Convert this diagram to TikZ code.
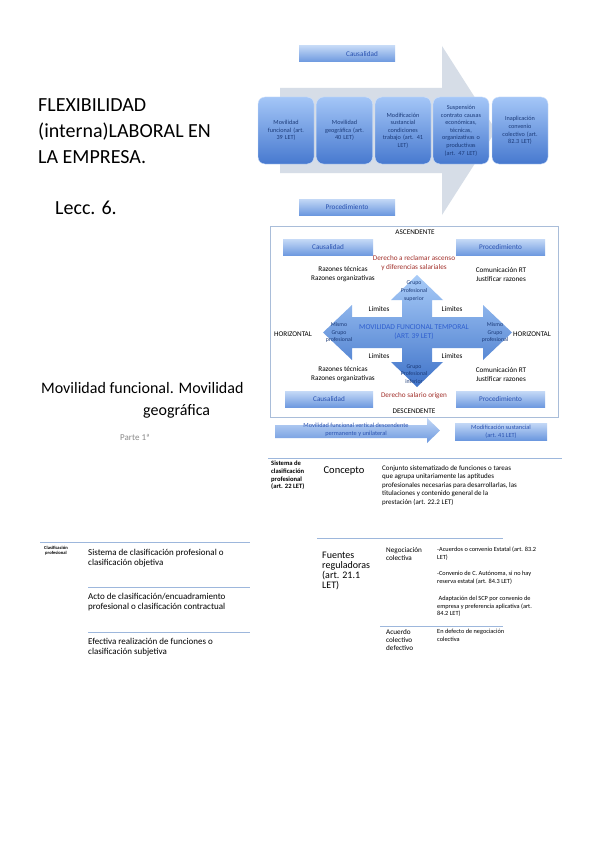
\documentclass[tikz,border=0pt]{standalone}
\usepackage{fontspec}
\setmainfont{Carlito}
\usepackage{tikz}
\usetikzlibrary{positioning, calc}
\definecolor{chevrongray}{HTML}{D6DDE7}
\definecolor{stagetop}{HTML}{A4C6F7}
\definecolor{stagebottom}{HTML}{4779CF}
\definecolor{bartop}{HTML}{C3D8F6}
\definecolor{barbottom}{HTML}{6C98DF}
\definecolor{navytext}{HTML}{1B3A78}
\definecolor{bartext}{HTML}{2A52B0}
\definecolor{crosstop}{HTML}{A9CCF8}
\definecolor{crossbottom}{HTML}{3F73C9}
\definecolor{titleblue}{HTML}{2F5FCF}
\definecolor{reasonred}{HTML}{A2302B}
\definecolor{framegray}{HTML}{A9BDD9}
\definecolor{rulegray}{HTML}{9DB7DC}
\definecolor{partgray}{HTML}{8A8A8A}

\newcommand{\fs}[2]{\fontsize{#1}{#2}\selectfont}

\begin{document}
\begin{tikzpicture}[x=1pt, y=-1pt,
  stagebox/.style={rounded corners=7pt, top color=stagetop, bottom color=stagebottom,
    draw=stagetop!50!white, minimum width=56pt, minimum height=67pt, text width=54pt,
    inner sep=0pt, align=center, text=navytext, font=\fs{6.2}{7.6}},
  barbox/.style={top color=bartop, bottom color=barbottom, minimum height=16pt,
    inner sep=0pt, text=bartext, align=center, font=\fs{7.2}{8.5}},
  gridtext/.style={font=\fs{7.2}{9}, align=center, inner sep=0pt},
  reason/.style={gridtext, text=reasonred},
  tiptext/.style={font=\fs{5.8}{7.6}, align=center, inner sep=0pt, text=navytext},
  rulestyle/.style={rulegray, line width=0.8pt}
]
  \useasboundingbox (0,0) rectangle (599,848);
  \fill[white] (0,0) rectangle (599,848);

  % Title block
  \node[anchor=base west, font=\fs{20}{24}, inner sep=0pt] (title1) at (38,112) {FLEXIBILIDAD};
  \node[anchor=base west, font=\fs{20}{24}, inner sep=0pt] (title2) at (38,138) {(interna)LABORAL EN};
  \node[anchor=base west, font=\fs{20}{24}, inner sep=0pt] (title3) at (38,163) {LA EMPRESA.};
  \node[anchor=base west, font=\fs{20}{24}, inner sep=0pt] (lecc) at (55,214) {Lecc. 6.};

  \node[anchor=base west, font=\fs{16}{19}, inner sep=0pt] (sub1) at (41,393) {Movilidad funcional. Movilidad};
  \node[anchor=base west, font=\fs{16}{19}, inner sep=0pt] (sub2) at (143,415) {geográfica};
  \node[anchor=base west, font=\fs{9}{11}, inner sep=0pt, text=partgray] (parte) at (120,440) {Parte 1ª};

  % Process chevron
  \fill[chevrongray] (280,88) -- (442,88) -- (442,46) -- (496,130.5) -- (442,215)
    -- (442,173) -- (280,173) -- cycle;
  \node[barbox, minimum width=96pt] (causa) at (347,54) {\hspace*{30pt}Causalidad};
  \node[barbox, minimum width=96pt] (proced) at (347,207) {Procedimiento};

  \foreach \x/\name/\txt in {
      286/funcional/{Movilidad\\funcional (art.\\39 LET)},
      344.5/geografica/{Movilidad\\geográfica (art.\\40 LET)},
      403/sustancial/{Modificación\\sustancial\\condiciones\\trabajo (art. 41\\LET)},
      461/suspension/{Suspensión\\contrato causas\\económicas,\\técnicas,\\organizativas o\\productivas\\(art. 47 LET)},
      520/inaplicacion/{Inaplicación\\convenio\\colectivo (art.\\82.3 LET)}} {
    \node[stagebox] (\name) at (\x,130.5) {\txt};
  }

  % Movilidad funcional temporal
  \draw[framegray, line width=0.8pt] (270,226) rectangle (558,417);
  \node[gridtext] (asc) at (415,232) {ASCENDENTE};
  \node[gridtext] (desc) at (414,411) {DESCENDENTE};
  \node[barbox, minimum width=90pt] (causaUp) at (328,247.5) {Causalidad};
  \node[barbox, minimum width=89pt] (procUp) at (500.5,247.5) {Procedimiento};
  \node[barbox, minimum width=88pt] (causaDown) at (329,399.5) {Causalidad};
  \node[barbox, minimum width=89pt] (procDown) at (500.5,399.5) {Procedimiento};

  \path[top color=crosstop, bottom color=crossbottom]
    (417,275) -- (443,300) -- (432,300) -- (432,317) -- (483,317) -- (483,305)
    -- (512,332.5) -- (483,360) -- (483,348) -- (432,348) -- (432,362) -- (443,362)
    -- (417,387) -- (391,362) -- (402,362) -- (402,348) -- (352,348) -- (352,360)
    -- (323,332.5) -- (352,305) -- (352,317) -- (402,317) -- (402,300) -- (391,300) -- cycle;

  \node[reason] (ascRight) at (414,263.5) {Derecho a reclamar ascenso\\y diferencias salariales};
  \node[reason] (salario) at (414,396) {Derecho salario origen};
  \node[gridtext] (razUp) at (343,274.5) {Razones técnicas\\Razones organizativas};
  \node[gridtext] (comUp) at (501,274.5) {Comunicación RT\\Justificar razones};
  \node[gridtext] (razDown) at (343,374.5) {Razones técnicas\\Razones organizativas};
  \node[gridtext] (comDown) at (501,374.5) {Comunicación RT\\Justificar razones};

  \node[tiptext] (superior) at (414,291) {Grupo\\Profesional\\superior};
  \node[tiptext] (inferior) at (414,374) {Grupo\\Profesional\\inferior};
  \node[tiptext] (mismoL) at (339,332.5) {Mismo\\Grupo\\profesional};
  \node[tiptext] (mismoR) at (495,332.5) {Mismo\\Grupo\\profesional};
  \node[gridtext, text=titleblue, font=\fs{7.5}{9}] (temporal) at (414,332.5)
    {MOVILIDAD FUNCIONAL TEMPORAL\\(ART. 39 LET)};

  \foreach \x/\y/\name in {379/309/limA, 452/309/limB, 379/356/limC, 452/356/limD}
    \node[gridtext] (\name) at (\x,\y) {Límites};
  \node[gridtext] (horizL) at (293,334) {HORIZONTAL};
  \node[gridtext] (horizR) at (532,334) {HORIZONTAL};

  % Descendente permanente
  \path[top color=bartop, bottom color=barbottom] (275,425) -- (427,425) -- (427,418)
    -- (440,430.5) -- (427,443) -- (427,438) -- (275,438) -- cycle;
  \node[gridtext, text=bartext, font=\fs{6.3}{7.8}] (permanente) at (356,430)
    {Movilidad funcional vertical descendente\\permanente y unilateral};
  \node[barbox, minimum width=92pt, minimum height=17pt, font=\fs{6.3}{7.8}] (modif) at (501,431.5)
    {Modificación sustancial\\(art. 41 LET)};

  % Sistema de clasificacion
  \draw[rulestyle] (268,458) -- (562,458);
  \node[anchor=north west, align=left, inner sep=0pt, font=\bfseries\fs{6.6}{7.6}] (sistema) at (271,461)
    {Sistema de\\clasificación\\profesional\\(art. 22 LET)};
  \node[font=\fs{10.5}{12}, inner sep=0pt] (concepto) at (344,471) {Concepto};
  \node[anchor=north west, align=left, inner sep=0pt, font=\fs{7}{8.5}] (definicion) at (382,465)
    {Conjunto sistematizado de funciones o tareas\\que agrupa unitariamente las aptitudes\\profesionales necesarias para desarrollarlas, las\\titulaciones y contenido general de la\\prestación (art. 22.2 LET)};

  % Clasificacion profesional
  \draw[rulestyle] (40,542) -- (250,542);
  \draw[rulestyle] (88,587) -- (250,587);
  \draw[rulestyle] (88,632) -- (250,632);
  \node[align=center, inner sep=0pt, font=\bfseries\fs{4.6}{5.4}] (clasif) at (56,550.5)
    {Clasificación\\profesional};
  \node[anchor=west, align=left, inner sep=0pt, font=\fs{9}{10}] (objetiva) at (88,558)
    {Sistema de clasificación profesional o\\clasificación objetiva};
  \node[anchor=west, align=left, inner sep=0pt, font=\fs{9}{10}] (contractual) at (88,602.5)
    {Acto de clasificación/encuadramiento\\profesional o clasificación contractual};
  \node[anchor=west, align=left, inner sep=0pt, font=\fs{9}{10}] (subjetiva) at (88,647)
    {Efectiva realización de funciones o\\clasificación subjetiva};

  % Fuentes reguladoras
  \draw[rulestyle] (317,538) -- (503,538);
  \draw[rulestyle] (380,626) -- (503,626);
  \node[anchor=north west, align=left, inner sep=0pt, font=\fs{10}{9.8}] (fuentes) at (322,552)
    {Fuentes\\reguladoras\\(art. 21.1\\LET)};
  \node[anchor=north west, align=left, inner sep=0pt, font=\fs{7.2}{8}] (negociacion) at (386,547)
    {Negociación\\colectiva};
  \node[anchor=north west, align=left, inner sep=0pt, font=\fs{7.2}{8}] (defectivo) at (386,629)
    {Acuerdo\\colectivo\\defectivo};
  \node[anchor=north west, align=left, inner sep=0pt, font=\fs{6.3}{7.6}] (estatal) at (437,547)
    {-Acuerdos o convenio Estatal (art. 83.2\\LET)};
  \node[anchor=north west, align=left, inner sep=0pt, font=\fs{6.3}{7.6}] (autonomico) at (437,571)
    {-Convenio de C. Autónoma, si no hay\\reserva estatal (art. 84.3 LET)};
  \node[anchor=north west, align=left, inner sep=0pt, font=\fs{6.3}{7.6}] (empresa) at (437,596)
    {\ Adaptación del SCP por convenio de\\empresa y preferencia aplicativa (art.\\84.2 LET)};
  \node[anchor=north west, align=left, inner sep=0pt, font=\fs{6.3}{7.6}] (endefecto) at (437,629)
    {En defecto de negociación\\colectiva};
\end{tikzpicture}
\end{document}
